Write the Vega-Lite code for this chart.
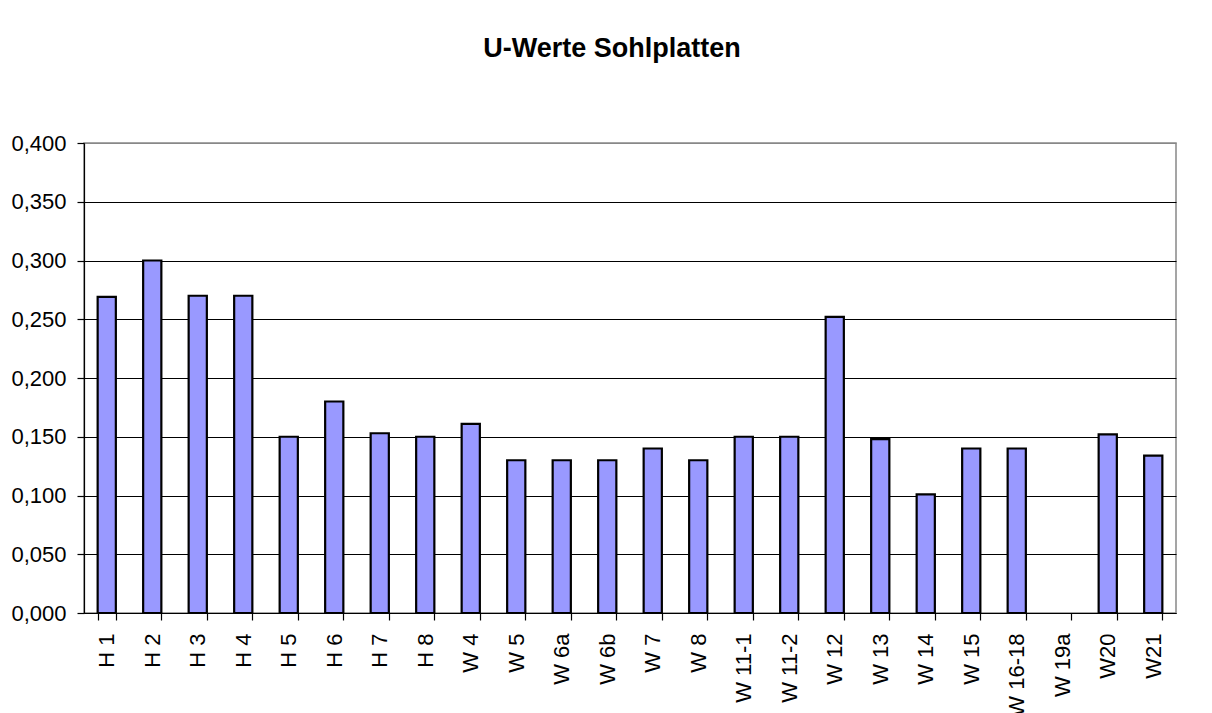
{
  "$schema": "https://vega.github.io/schema/vega-lite/v6.json",
  "autosize": "none",
  "width": 1092,
  "height": 470,
  "padding": {"left": 84, "top": 143, "right": 36, "bottom": 100},
  "background": "white",
  "title": {
    "text": "U-Werte Sohlplatten",
    "font": "Liberation Sans",
    "fontSize": 27,
    "fontWeight": "bold",
    "color": "black",
    "anchor": "middle",
    "dx": -18,
    "offset": 69
  },
  "config": {
    "view": {"stroke": "#888888", "strokeWidth": 1.5},
    "axis": {
      "labelFont": "Liberation Sans",
      "labelFontSize": 22,
      "labelColor": "black",
      "domainColor": "black",
      "tickColor": "black",
      "tickSize": 7,
      "domainWidth": 1.2,
      "tickWidth": 1.2
    }
  },
  "data": {
    "values": [
      {"name": "H 1", "u": 0.269},
      {"name": "H 2", "u": 0.300},
      {"name": "H 3", "u": 0.270},
      {"name": "H 4", "u": 0.270},
      {"name": "H 5", "u": 0.150},
      {"name": "H 6", "u": 0.180},
      {"name": "H 7", "u": 0.153},
      {"name": "H 8", "u": 0.150},
      {"name": "W 4", "u": 0.161},
      {"name": "W 5", "u": 0.130},
      {"name": "W 6a", "u": 0.130},
      {"name": "W 6b", "u": 0.130},
      {"name": "W 7", "u": 0.140},
      {"name": "W 8", "u": 0.130},
      {"name": "W 11-1", "u": 0.150},
      {"name": "W 11-2", "u": 0.150},
      {"name": "W 12", "u": 0.252},
      {"name": "W 13", "u": 0.148},
      {"name": "W 14", "u": 0.101},
      {"name": "W 15", "u": 0.140},
      {"name": "W 16-18", "u": 0.140},
      {"name": "W 19a", "u": null},
      {"name": "W20", "u": 0.152},
      {"name": "W21", "u": 0.134}
    ]
  },
  "mark": {"type": "bar", "fill": "#9999FF", "stroke": "black", "strokeWidth": 2.2},
  "encoding": {
    "x": {
      "field": "name",
      "type": "nominal",
      "title": null,
      "scale": {
        "domain": ["H 1","H 2","H 3","H 4","H 5","H 6","H 7","H 8","W 4","W 5","W 6a","W 6b","W 7","W 8","W 11-1","W 11-2","W 12","W 13","W 14","W 15","W 16-18","W 19a","W20","W21"],
        "paddingInner": 0.6,
        "paddingOuter": 0.3
      },
      "axis": {
        "labelAngle": -90,
        "labelAlign": "right",
        "labelBaseline": "middle",
        "labelPadding": 13,
        "tickBand": "extent",
        "grid": false
      }
    },
    "y": {
      "field": "u",
      "type": "quantitative",
      "title": null,
      "scale": {"domain": [0, 0.4], "nice": false},
      "axis": {
        "values": [0, 0.05, 0.1, 0.15, 0.2, 0.25, 0.3, 0.35, 0.4],
        "labelExpr": "replace(format(datum.value, '.3f'), '.', ',')",
        "labelPadding": 11,
        "grid": true,
        "gridColor": {"condition": {"test": "datum.value >= 0.4", "value": "#888888"}, "value": "black"},
        "gridWidth": 1
      }
    }
  }
}
